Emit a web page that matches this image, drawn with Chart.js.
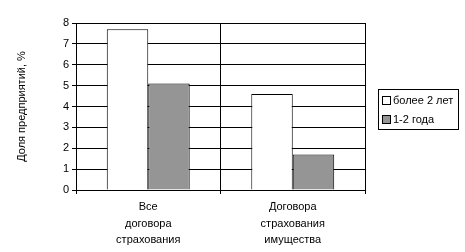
<!DOCTYPE html>
<html>
<head>
<meta charset="utf-8">
<script src="https://cdn.jsdelivr.net/npm/chart.js@4/dist/chart.umd.min.js"></script>
<style>
  html, body { margin: 0; padding: 0; background: #fff; }
  #wrap { width: 465px; height: 252px; }
</style>
</head>
<body>
<div id="wrap"><canvas id="grafico" width="465" height="252"></canvas></div>
<script>
// categorias y valores
const categorias = [['Все', 'договора', 'страхования'], ['Договора', 'страхования', 'имущества']];
const seriesNombres = ['более 2 лет', '1-2 года'];
const masDe2 = [7.7, 4.6];
const de1a2 = [5.1, 1.7];
const yTicks = [0, 1, 2, 3, 4, 5, 6, 7, 8];

const fuente = "'Liberation Sans', Arial, sans-serif";
const colores = ['#ffffff', '#959595'];

// leyenda con marco, dibujada a mano
const leyendaMarco = {
    id: 'leyendaMarco',
    afterDraw(chart) {
        const ctx = chart.ctx;
        const x0 = 378, y0 = 89, w = 80, h = 40;
        ctx.save();
        ctx.strokeStyle = '#000';
        ctx.lineWidth = 1;
        ctx.strokeRect(x0 + 0.5, y0 + 0.5, w, h);
        ctx.font = '11px ' + fuente;
        ctx.textBaseline = 'middle';
        chart.data.datasets.forEach((ds, i) => {
            const cy = y0 + 11 + i * 19;
            ctx.fillStyle = ds.backgroundColor;
            ctx.fillRect(x0 + 4.5, cy - 3.5, 8, 8);
            ctx.strokeRect(x0 + 4.5, cy - 3.5, 8, 8);
            ctx.fillStyle = '#000';
            ctx.fillText(ds.label, x0 + 15, cy + 1);
        });
        ctx.restore();
    }
};

const ctx = document.getElementById('grafico').getContext('2d');
new Chart(ctx, {
    type: 'bar',
    data: {
        labels: categorias,
        datasets: [
            {
                label: seriesNombres[0],
                data: masDe2,
                backgroundColor: colores[0],
                borderColor: '#000',
                borderWidth: 1,
                categoryPercentage: 0.574,
                barPercentage: 1
            },
            {
                label: seriesNombres[1],
                data: de1a2,
                backgroundColor: colores[1],
                borderColor: '#000',
                borderWidth: 1,
                categoryPercentage: 0.574,
                barPercentage: 1
            }
        ]
    },
    options: {
        responsive: false,
        animation: false,
        layout: { padding: { left: 15, right: 100, top: 23, bottom: 0 } },
        plugins: {
            legend: { display: false },
            tooltip: { enabled: false }
        },
        scales: {
            x: {
                grid: { color: '#000', lineWidth: 1, offset: true, drawTicks: true, tickLength: 4 },
                border: { color: '#000', width: 1 },
                ticks: { color: '#000', font: { family: fuente, size: 11, lineHeight: 1.5 }, padding: 5, maxRotation: 0 },
                afterFit: s => { s.height = 62; }
            },
            y: {
                min: 0,
                max: 8,
                afterBuildTicks: s => { s.ticks = yTicks.map(v => ({ value: v })); },
                grid: { color: '#000', lineWidth: 1, drawTicks: true, tickLength: 4 },
                border: { color: '#000', width: 1 },
                ticks: { color: '#000', font: { family: fuente, size: 11 }, padding: 3 },
                title: {
                    display: true,
                    text: 'Доля предприятий, %',
                    color: '#000',
                    font: { family: fuente, size: 11 },
                    padding: { top: 0, bottom: 22 }
                },
                afterFit: s => { s.width = 61; }
            }
        }
    },
    plugins: [leyendaMarco]
});
</script>
</body>
</html>
